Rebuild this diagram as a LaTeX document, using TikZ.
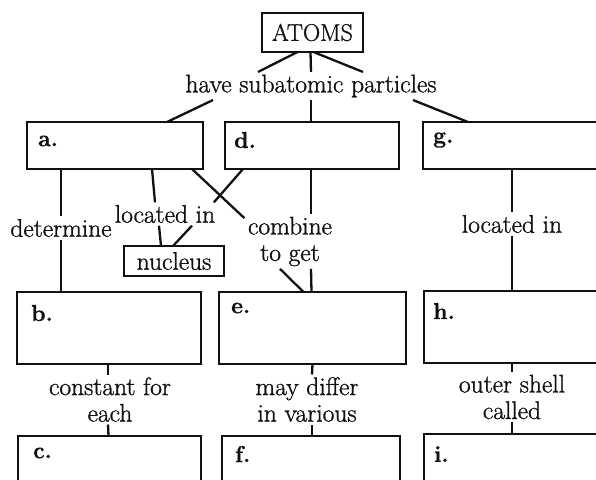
\documentclass[tikz,border=0pt]{standalone}
\usepackage{fontspec}
\setmainfont{Latin Modern Roman}[RawFeature={embolden=1.1}]
\usepackage{tikz}
\usetikzlibrary{calc}
\definecolor{ink}{HTML}{111111}

\begin{document}
\begin{tikzpicture}[x=1pt,y=-1pt,
  box/.style={draw=ink,line width=2.7pt,inner sep=0pt,outer sep=0pt,font=\fontsize{25.5}{26.5}\selectfont,text=ink},
  tag/.style={anchor=west,inner sep=0pt,font=\fontsize{23}{24}\selectfont\bfseries,text=ink},
  link/.style={inner sep=2.5pt,align=center,font=\fontsize{25.5}{26.5}\selectfont,text=ink},
  wire/.style={draw=ink,line width=2.3pt}]
  \useasboundingbox (0,0) rectangle (596,479);

  % Top concept
  \node[box,minimum width=101pt,minimum height=39pt,font=\fontsize{24}{26}\selectfont] (atoms) at (312.5,32.5) {ATOMS};
  \node[link] (have) at (311,86) {have subatomic particles};

  % First row
  \node[box,minimum width=176pt,minimum height=47pt] (a) at (115,145.5) {};
  \node[box,minimum width=174pt,minimum height=47pt] (d) at (312,145.5) {};
  \node[box,minimum width=187pt,minimum height=47pt] (g) at (516.5,145.5) {};
  \node[tag] (a-tag) at ($(a.north west)+(11,19)$) {a.};
  \node[tag] (d-tag) at ($(d.north west)+(9,18)$) {d.};
  \node[tag] (g-tag) at ($(g.north west)+(10,18)$) {g.};

  % Link words between rows
  \node[link] (determine) at (61,228) {determine};
  \node[link] (located) at (165,214) {located in};
  \node[box,minimum width=100pt,minimum height=30pt] (nucleus) at (174,261) {nucleus};
  \node[link] (combine) at (290,241.5) {combine\\to get};
  \node[link] (located2) at (512,224) {located in};

  % Second row
  \node[box,minimum width=184pt,minimum height=72pt] (b) at (109,328) {};
  \node[box,minimum width=187pt,minimum height=72pt] (e) at (312.5,328) {};
  \node[box,minimum width=186pt,minimum height=72pt] (h) at (517,327) {};
  \node[tag] (b-tag) at ($(b.north west)+(14,21)$) {b.};
  \node[tag] (e-tag) at ($(e.north west)+(12,16)$) {e.};
  \node[tag] (h-tag) at ($(h.north west)+(9,20)$) {h.};

  \node[link] (constant) at (110,399.5) {constant for\\each};
  \node[link] (differ) at (307,399.5) {may differ\\in various};
  \node[link] (shell) at (512,397) {outer shell\\called};

  % Third row (cut off by the page)
  \node[box,minimum width=183pt,minimum height=72pt] (c) at (109.5,472) {};
  \node[box,minimum width=178pt,minimum height=72pt] (f) at (311,472) {};
  \node[box,minimum width=186pt,minimum height=72pt] (i) at (517,470) {};
  \node[tag] (c-tag) at ($(c.north west)+(15,17)$) {c.};
  \node[tag] (f-tag) at ($(f.north west)+(13,18)$) {f.};
  \node[tag] (i-tag) at ($(i.north west)+(10,20)$) {i.};

  % ATOMS to its three particles
  \draw[wire] ($(atoms.south)+(-15,0)$) -- ($(have.north)+(-53,0)$);
  \draw[wire] ($(atoms.south)+(-2,0)$) -- (have.north);
  \draw[wire] ($(atoms.south)+(1,0)$) -- ($(have.north)+(52,0)$);
  \draw[wire] ($(have.south)+(-98,0)$) -- ($(a.north)+(52,0)$);
  \draw[wire] (have.south) -- ($(d.north)+(-1,0)$);
  \draw[wire] ($(have.south)+(102,0)$) -- ($(g.north west)+(45,0)$);

  % a. and d.
  \draw[wire] ($(a.south west)+(34,0)$) -- (determine.north);
  \draw[wire] (determine.south) -- ($(b.north west)+(44,0)$);
  \draw[wire] ($(a.south west)+(125,0)$) -- ($(located.north)+(-10,0)$);
  \draw[wire] ($(d.south west)+(18,0)$) -- ($(located.north east)+(-4,0)$);
  \draw[wire] ($(located.south)+(-6,0)$) -- ($(nucleus.north)+(-13,0)$);
  \draw[wire] ($(located.south)+(27,0)$) -- ($(nucleus.north)+(-1,0)$);
  \draw[wire] ($(a.south west)+(165,0)$) -- ($(combine.north west)+(-1,4)$);
  \draw[wire] ($(d.south)+(-1,0)$) -- ($(combine.north)+(21,0)$);
  \draw[wire] ($(combine.south)+(-10,0)$) -- ($(e.north)+(-9,0)$);
  \draw[wire] ($(combine.south)+(21,0)$) -- ($(e.north)+(-1,0)$);

  % g.
  \draw[wire] ($(g.south west)+(89,0)$) -- (located2.north);
  \draw[wire] (located2.south) -- ($(h.north west)+(88,0)$);

  % second row down to third row
  \draw[wire] ($(b.south)+(-1,0)$) -- ($(constant.north)+(-2,0)$);
  \draw[wire] ($(constant.south)+(-2,0)$) -- ($(c.north)+(-1,0)$);
  \draw[wire] (e.south) -- ($(differ.north)+(5,0)$);
  \draw[wire] ($(differ.south)+(5,0)$) -- ($(f.north)+(1,0)$);
  \draw[wire] ($(h.south)+(-5,0)$) -- (shell.north);
  \draw[wire] (shell.south) -- ($(i.north)+(-5,0)$);
\end{tikzpicture}
\end{document}
